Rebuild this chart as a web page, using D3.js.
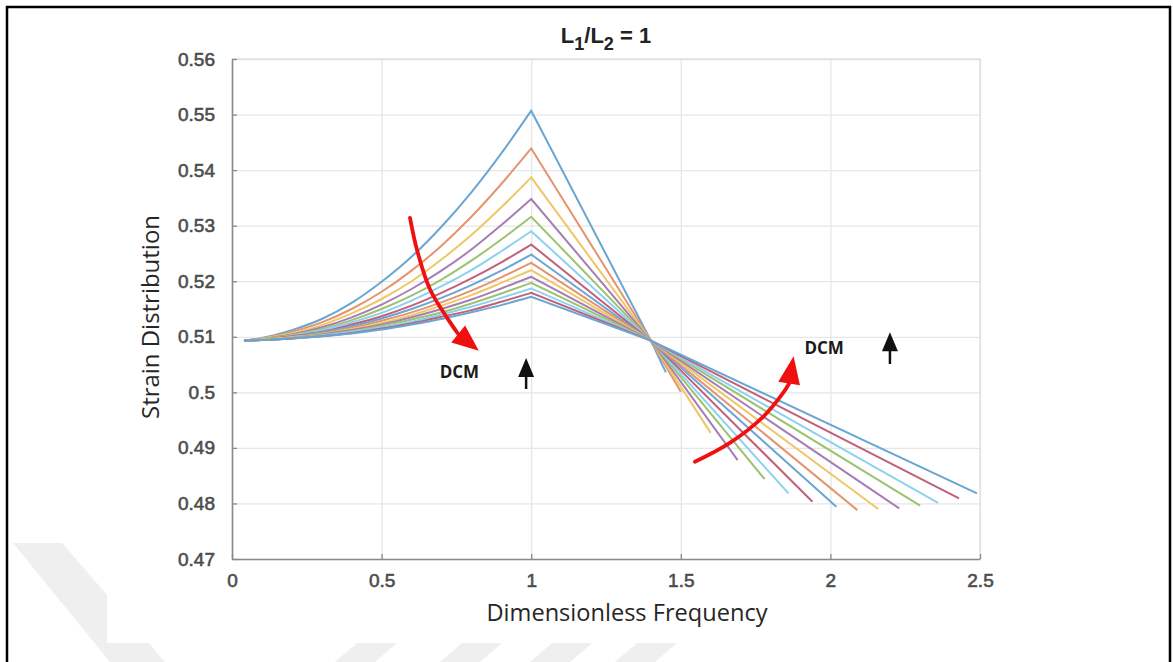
<!DOCTYPE html>
<html><head><meta charset="utf-8">
<script src="https://cdn.jsdelivr.net/npm/d3@7"></script>
<style>body{margin:0;background:#fff;} svg{display:block}</style>
</head><body>
<svg id="chart" width="1173" height="662"></svg>
<script>
// ---------- data ----------
const xPoints = [0.04, 0.1, 0.2, 0.3, 0.4, 0.5, 0.6, 0.7, 0.8, 0.9, 1.0, 1.4];
const curve01 = [0.5093,0.5098,0.5112,0.5132,0.5161,0.5199,0.5244,0.5298,0.5360,0.5430,0.5507,0.5093];
const curve02 = [0.5093,0.5097,0.5109,0.5126,0.5150,0.5181,0.5219,0.5264,0.5316,0.5375,0.5439,0.5093];
const curve03 = [0.5093,0.5097,0.5106,0.5121,0.5142,0.5168,0.5200,0.5239,0.5283,0.5333,0.5387,0.5093];
const curve04 = [0.5093,0.5096,0.5104,0.5117,0.5135,0.5158,0.5186,0.5219,0.5257,0.5301,0.5348,0.5093];
const curve05 = [0.5093,0.5096,0.5103,0.5114,0.5130,0.5150,0.5174,0.5203,0.5237,0.5275,0.5316,0.5093];
const curve06 = [0.5093,0.5095,0.5102,0.5112,0.5126,0.5143,0.5165,0.5191,0.5220,0.5254,0.5290,0.5093];
const curve07 = [0.5093,0.5095,0.5101,0.5109,0.5122,0.5137,0.5156,0.5179,0.5205,0.5234,0.5266,0.5093];
const curve08 = [0.5093,0.5095,0.5100,0.5108,0.5119,0.5133,0.5150,0.5170,0.5193,0.5219,0.5248,0.5093];
const curve09 = [0.5093,0.5095,0.5099,0.5106,0.5116,0.5129,0.5144,0.5162,0.5183,0.5207,0.5233,0.5093];
const curve10 = [0.5093,0.5095,0.5099,0.5105,0.5114,0.5125,0.5139,0.5156,0.5175,0.5197,0.5220,0.5093];
const curve11 = [0.5093,0.5094,0.5098,0.5104,0.5112,0.5122,0.5135,0.5150,0.5167,0.5187,0.5208,0.5093];
const curve12 = [0.5093,0.5094,0.5098,0.5103,0.5110,0.5120,0.5131,0.5144,0.5160,0.5178,0.5197,0.5093];
const curve13 = [0.5093,0.5094,0.5097,0.5102,0.5109,0.5117,0.5127,0.5140,0.5154,0.5170,0.5187,0.5093];
const curve14 = [0.5093,0.5094,0.5097,0.5101,0.5107,0.5115,0.5124,0.5136,0.5148,0.5163,0.5179,0.5093];
const curve15 = [0.5093,0.5094,0.5097,0.5101,0.5106,0.5113,0.5122,0.5132,0.5144,0.5157,0.5172,0.5093];
const endX = [1.45, 1.50, 1.60, 1.69, 1.78, 1.86, 1.94, 2.02, 2.09, 2.16, 2.23, 2.30, 2.36, 2.43, 2.49];
const endY = [0.5036,0.5001,0.4927,0.4878,0.4844,0.4818,0.4803,0.4794,0.4788,0.4790,0.4791,0.4796,0.4801,0.4809,0.4818];

const xTicks = [0, 0.5, 1, 1.5, 2, 2.5];
const xTickLabels = ["0", "0.5", "1", "1.5", "2", "2.5"];
const yTicks = [0.47, 0.48, 0.49, 0.5, 0.51, 0.52, 0.53, 0.54, 0.55, 0.56];
const yTickLabels = ["0.47", "0.48", "0.49", "0.5", "0.51", "0.52", "0.53", "0.54", "0.55", "0.56"];

// annotations (data coordinates)
const dcmLabels = [{x: 0.76, y: 0.5037}, {x: 1.979, y: 0.5080}];
const blackArrows = [{x: 0.983, y0: 0.5006, y1: 0.5062}, {x: 2.199, y0: 0.5051, y1: 0.5108}];
const redArrow1 = [[0.595,0.5314],[0.618,0.5257],[0.662,0.5185],[0.719,0.5134],[0.756,0.5105],[0.825,0.5075]];
const redArrow2 = [[1.547,0.4875],[1.664,0.4909],[1.775,0.4956],[1.842,0.4999],[1.862,0.5016],[1.877,0.5065]];

const palette = ["#6aa6d3","#e4946f","#efc766","#a67db4","#9cc36f","#8dd0ef","#c2607a"];

// ---------- layout ----------
const svg = d3.select("#chart");
const X0 = 232, X1 = 980, Y0 = 59, Y1 = 559;
const x = d3.scaleLinear().domain([0, 2.5]).range([X0, X1]);
const y = d3.scaleLinear().domain([0.47, 0.56]).range([Y1, Y0]);

// watermark
const wm = svg.append("g").attr("fill", "#efefef");
wm.append("polygon").attr("points", "13,543 62,543 165,662 110,662");
svg.append("rect").attr("x", 107).attr("y", 20).attr("width", 1050).attr("height", 623).attr("fill", "#fff");
[[335,375],[440,480],[530,570],[615,655]].forEach(([a,b]) => {
  wm.append("polygon").attr("points", `${a},662 ${b},662 ${b+22},643 ${a+22},643`);
});

// frame
svg.append("path").attr("d", "M7,663 V7 H1170 V663").attr("fill", "none")
  .attr("stroke", "#000").attr("stroke-width", 2.5);

// grid
const grid = svg.append("g");
grid.append("g").attr("transform", `translate(0,${Y1})`)
  .call(d3.axisBottom(x).tickValues(xTicks).tickSize(-(Y1 - Y0)).tickFormat(""))
  .call(g => g.select(".domain").remove())
  .call(g => g.selectAll("line").attr("stroke", "#e6e6e6").attr("stroke-width", 1.3));
grid.append("g").attr("transform", `translate(${X0},0)`)
  .call(d3.axisLeft(y).tickValues(yTicks).tickSize(-(X1 - X0)).tickFormat(""))
  .call(g => g.select(".domain").remove())
  .call(g => g.selectAll("line").attr("stroke", "#e6e6e6").attr("stroke-width", 1.3));
svg.append("path").attr("d", `M${X0},${Y0} H${X1} V${Y1}`).attr("fill", "none")
  .attr("stroke", "#e0e0e0").attr("stroke-width", 1.3);

// curves: smooth rising branch, straight falling branch
const series = [curve01,curve02,curve03,curve04,curve05,curve06,curve07,curve08,curve09,curve10,curve11,curve12,curve13,curve14,curve15];
const smooth = d3.line().curve(d3.curveMonotoneX).x(d => x(d[0])).y(d => y(d[1]));
const curvesG = svg.append("g");
series.forEach((vals, i) => {
  const pts = xPoints.map((xv, j) => [xv, vals[j]]);
  const rising = pts.slice(0, 11);
  const falling = [pts[11], [endX[i], endY[i]]];
  const d = smooth(rising) + falling.map(p => `L${x(p[0])},${y(p[1])}`).join("");
  curvesG.append("path").attr("d", d).attr("fill", "none")
    .attr("stroke", palette[i % palette.length]).attr("stroke-width", 2)
    .attr("stroke-linejoin", "miter");
});

// axes
const axisColor = "#8a8a8a";
const tickFont = "'Liberation Sans', Arial, sans-serif";
const yAxis = svg.append("g").attr("transform", `translate(${X0},0)`)
  .call(d3.axisLeft(y).tickValues(yTicks).tickSize(-5).tickSizeOuter(0).tickPadding(17)
    .tickFormat((d, i) => yTickLabels[i]));
const xAxis = svg.append("g").attr("transform", `translate(0,${Y1})`)
  .call(d3.axisBottom(x).tickValues(xTicks).tickSize(-5).tickSizeOuter(0).tickPadding(15)
    .tickFormat((d, i) => xTickLabels[i]));
[xAxis, yAxis].forEach(a => {
  a.select(".domain").attr("stroke", axisColor).attr("stroke-width", 1.6);
  a.selectAll("line").attr("stroke", axisColor).attr("stroke-width", 1.3);
  a.selectAll("text").attr("fill", "#4d4d4d").attr("font-size", 19)
    .attr("font-family", tickFont).attr("stroke", "#4d4d4d").attr("stroke-width", 0.6);
});

// axis titles
svg.append("text").attr("x", 627).attr("y", 621).attr("text-anchor", "middle")
  .attr("font-family", "'Open Sans', sans-serif").attr("font-size", 23).attr("fill", "#262626")
  .attr("textLength", 281).attr("lengthAdjust", "spacingAndGlyphs")
  .text("Dimensionless Frequency");
svg.append("text").attr("transform", "translate(159,317) rotate(-90)").attr("text-anchor", "middle")
  .attr("font-family", "'Open Sans', sans-serif").attr("font-size", 23).attr("fill", "#262626")
  .attr("textLength", 204).attr("lengthAdjust", "spacingAndGlyphs")
  .text("Strain Distribution");

// title
const title = svg.append("text").attr("x", 606).attr("y", 43).attr("text-anchor", "middle")
  .attr("font-family", tickFont).attr("font-weight", "bold").attr("font-size", 22).attr("fill", "#222");
title.append("tspan").text("L");
title.append("tspan").attr("dy", 7).attr("font-size", 18).text("1");
title.append("tspan").attr("dy", -7).text("/L");
title.append("tspan").attr("dy", 7).attr("font-size", 18).text("2");
title.append("tspan").attr("dy", -7).text(" = 1");

// DCM labels
dcmLabels.forEach(d => {
  svg.append("text").attr("x", x(d.x)).attr("y", y(d.y) + 6).attr("text-anchor", "middle")
    .attr("font-family", "'Open Sans', sans-serif").attr("font-weight", "bold").attr("font-size", 17)
    .attr("fill", "#1a1a1a").text("DCM");
});

// black arrows
blackArrows.forEach(d => {
  const px = x(d.x), pb = y(d.y0), pt = y(d.y1);
  svg.append("line").attr("x1", px).attr("x2", px).attr("y1", pb).attr("y2", pt + 14)
    .attr("stroke", "#111").attr("stroke-width", 2.5);
  svg.append("path").attr("d", `M${px},${pt} L${px - 8},${pt + 19} L${px + 8},${pt + 19} Z`).attr("fill", "#111");
});

// red arrows
function redArrow(pts) {
  const p = pts.map(d => [x(d[0]), y(d[1])]);
  const shaft = p.slice(0, -1);
  svg.append("path").attr("d", d3.line().curve(d3.curveCatmullRom)(shaft))
    .attr("fill", "none").attr("stroke", "#f01010").attr("stroke-width", 3.8).attr("stroke-linecap", "round");
  const base = p[p.length - 2], tip = p[p.length - 1];
  const dx = tip[0] - base[0], dy = tip[1] - base[1];
  const L = Math.hypot(dx, dy);
  const nx = -dy / L * 11, ny = dx / L * 11;
  svg.append("path").attr("d", `M${tip[0]},${tip[1]} L${base[0] + nx},${base[1] + ny} L${base[0] - nx},${base[1] - ny} Z`)
    .attr("fill", "#f01010");
}
redArrow(redArrow1);
redArrow(redArrow2);
</script>
</body></html>
